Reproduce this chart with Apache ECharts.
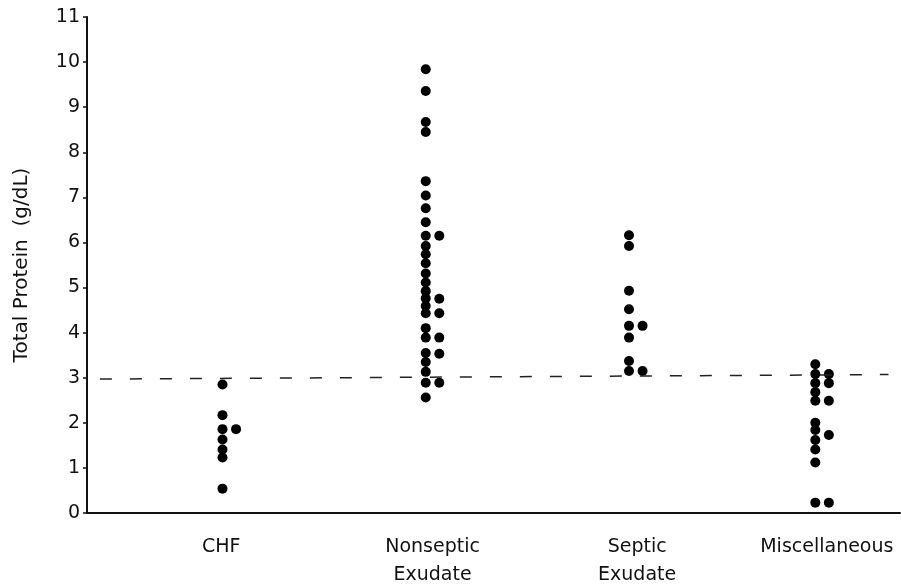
<!DOCTYPE html>
<html>
<head>
<meta charset="utf-8">
<script src="https://cdn.jsdelivr.net/npm/echarts@6/dist/echarts.min.js"></script>
<style>
  html, body { margin: 0; padding: 0; background: #fff; }
  #chart { width: 901px; height: 584px; }
</style>
</head>
<body>
<div id="chart"></div>
<script>
// groups along the x axis
var categories = ['CHF', 'Nonseptic\nExudate', 'Septic\nExudate', 'Miscellaneous'];

// total protein (g/dL), main column and the dots set beside it
var chfMain = [2.85, 2.17, 1.86, 1.63, 1.41, 1.23, 0.54];
var chfSide = [1.86];
var nonsepticMain = [9.84, 9.36, 8.67, 8.45, 7.36, 7.04, 6.76, 6.45, 6.15, 5.92, 5.74, 5.54, 5.31, 5.11,
                     4.92, 4.76, 4.59, 4.43, 4.10, 3.89, 3.55, 3.35, 3.13, 2.89, 2.56];
var nonsepticSide = [6.15, 4.75, 4.43, 3.89, 3.53, 2.89];
var septicMain = [6.16, 5.92, 4.93, 4.52, 4.15, 3.89, 3.37, 3.15];
var septicSide = [4.15, 3.15];
var miscMain = [3.30, 3.08, 2.88, 2.68, 2.49, 2.00, 1.84, 1.62, 1.41, 1.12, 0.23];
var miscSide = [3.08, 2.88, 2.49, 1.73, 0.23];

// cut-off line (g/dL) at its two ends
var cutoff = [2.97, 3.07];

// layout: where each group sits on the hidden 0..12 x scale
var groupPos = [2.0, 5.0, 8.0, 10.75];
var labelPos = [1.98, 5.1, 8.12, 10.92];
var sideShift = 0.2;

var mains = [chfMain, nonsepticMain, septicMain, miscMain];
var sides = [chfSide, nonsepticSide, septicSide, miscSide];

var points = [];
mains.forEach(function (arr, i) {
    arr.forEach(function (v) { points.push([groupPos[i], v]); });
});
sides.forEach(function (arr, i) {
    arr.forEach(function (v) { points.push([groupPos[i] + sideShift, v]); });
});

var font = 'DejaVu Sans';
var myChart = echarts.init(document.getElementById('chart'));

var option = {
    animation: false,
    backgroundColor: '#fff',
    grid: { left: 87, right: 1, top: 17, bottom: 71, containLabel: false, outerBoundsMode: 'none' },
    xAxis: {
        type: 'value',
        min: 0,
        max: 12,
        axisLine: { show: true, onZero: false, lineStyle: { color: '#111', width: 2 } },
        axisTick: { show: false },
        splitLine: { show: false },
        axisLabel: {
            customValues: labelPos,
            formatter: function (v) {
                for (var i = 0; i < labelPos.length; i++) {
                    if (Math.abs(labelPos[i] - v) < 1e-6) return categories[i];
                }
                return '';
            },
            color: '#111',
            fontFamily: font,
            fontSize: 19,
            lineHeight: 28,
            margin: 20,
            verticalAlign: 'top'
        }
    },
    yAxis: {
        type: 'value',
        min: 0,
        max: 11,
        interval: 1,
        name: 'Total Protein  (g/dL)',
        nameLocation: 'middle',
        nameGap: 55,
        nameTextStyle: { color: '#111', fontFamily: font, fontSize: 20 },
        axisLine: { show: true, lineStyle: { color: '#111', width: 2 } },
        axisTick: { show: true, inside: false, length: 4, lineStyle: { color: '#111', width: 1.5 } },
        splitLine: { show: false },
        axisLabel: { color: '#111', fontFamily: font, fontSize: 19, margin: 7 }
    },
    series: [
        {
            type: 'scatter',
            data: points,
            symbol: 'circle',
            symbolSize: 10,
            itemStyle: { color: '#000', opacity: 1 },
            markLine: {
                silent: true,
                symbol: ['none', 'none'],
                label: { show: false },
                lineStyle: { color: '#222', width: 1.5, type: [12, 18] },
                data: [[{ coord: [0.19, cutoff[0]] }, { coord: [11.83, cutoff[1]] }]]
            }
        }
    ]
};

myChart.setOption(option);
</script>
</body>
</html>
